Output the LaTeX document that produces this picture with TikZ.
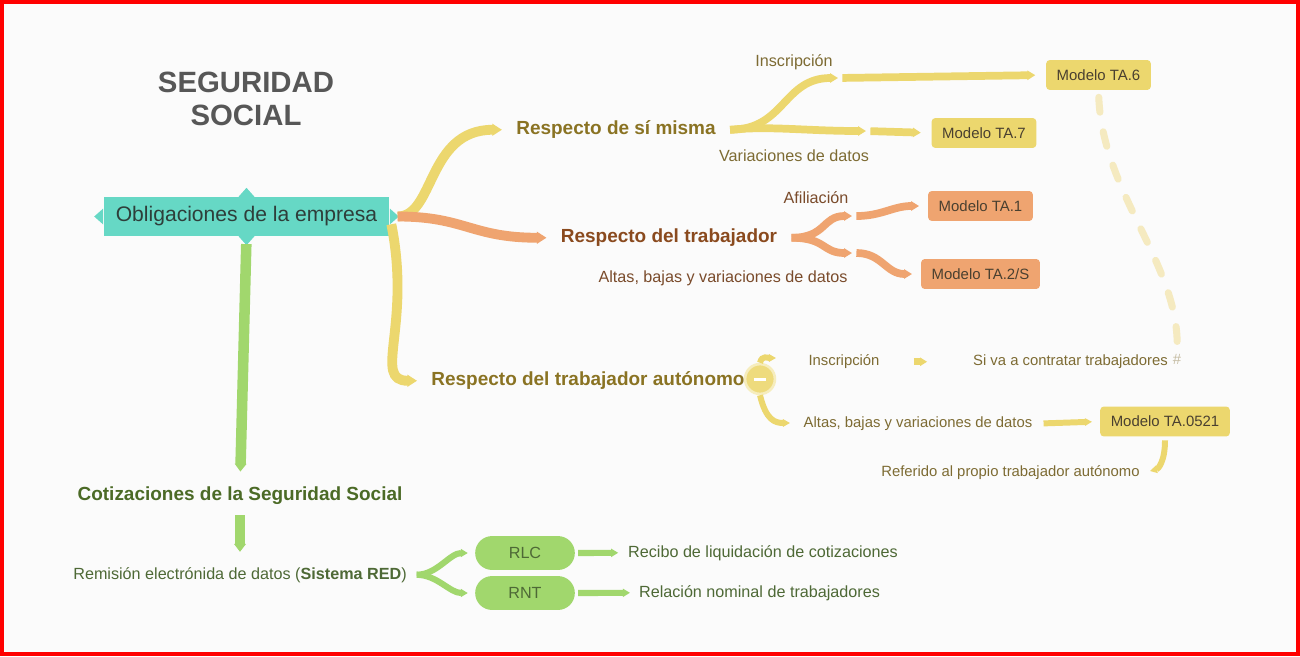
\documentclass[tikz,border=0pt]{standalone}
\usepackage{fontspec}
\setmainfont{Liberation Sans}
\usetikzlibrary{arrows.meta}

\definecolor{bgc}{HTML}{FBFBFB}
\definecolor{framec}{HTML}{FF0000}
\definecolor{titc}{HTML}{575757}
\definecolor{mainc}{HTML}{66D8C5}
\definecolor{maintxt}{HTML}{2E3E3A}
\definecolor{yelc}{HTML}{ECD76E}
\definecolor{orac}{HTML}{EFA470}
\definecolor{grnc}{HTML}{A1D76D}
\definecolor{dashc}{HTML}{F5EAC0}
\definecolor{ytxt}{HTML}{8A7323}
\definecolor{ylab}{HTML}{7D6B33}
\definecolor{otxt}{HTML}{8A4A1E}
\definecolor{olab}{HTML}{7A4B2B}
\definecolor{gtxt}{HTML}{4B6A26}
\definecolor{glab}{HTML}{4E6936}
\definecolor{boxtxt}{HTML}{4A4030}

\begin{document}
\begin{tikzpicture}[x=0.02cm, y=-0.02cm,
	every node/.style={inner sep=0pt},
	yrib/.style={draw=yelc, line width=5.6pt, -{Triangle[length=5.5pt, width=6.6pt]}},
	yrib2/.style={draw=yelc, line width=4.4pt, -{Triangle[length=4.5pt, width=5.2pt]}},
	yrib3/.style={draw=yelc, line width=3.4pt, -{Triangle[length=4pt, width=4.2pt]}},
	orib/.style={draw=orac, line width=5.6pt, -{Triangle[length=5.5pt, width=6.6pt]}},
	orib2/.style={draw=orac, line width=4.4pt, -{Triangle[length=4.5pt, width=5.2pt]}},
	grib/.style={draw=grnc, line width=6pt, -{Triangle[length=4.5pt, width=6.5pt]}},
	grib2/.style={draw=grnc, line width=3.5pt, -{Triangle[length=4pt, width=4.5pt]}},
	yhead/.style={font=\bfseries\fontsize{10.8}{13}\selectfont, text=ytxt, inner xsep=8pt, yshift=-1pt},
	ohead/.style={font=\bfseries\fontsize{10.8}{13}\selectfont, text=otxt, inner xsep=8pt, yshift=-1pt},
	ghead/.style={font=\bfseries\fontsize{10.8}{13}\selectfont, text=gtxt, yshift=-1pt},
	ylabel/.style={font=\fontsize{9.2}{11}\selectfont, text=ylab, yshift=-1pt},
	ysmall/.style={font=\fontsize{8.45}{10}\selectfont, text=ylab, yshift=-1pt},
	olabel/.style={font=\fontsize{9.2}{11}\selectfont, text=olab, yshift=-1pt},
	glabel/.style={font=\fontsize{9.2}{11}\selectfont, text=glab, yshift=-1pt},
	ybox/.style={fill=yelc, rounded corners=2pt, text=boxtxt, font=\fontsize{8.5}{10}\selectfont, inner xsep=6pt, minimum height=17pt},
	obox/.style={ybox, fill=orac},
	pill/.style={fill=grnc, rounded corners=9.6pt, text=glab, font=\fontsize{9.2}{11}\selectfont, minimum width=56.7pt, minimum height=19.3pt}
]

	\useasboundingbox (0,0) rectangle (1300,656);
	\fill[bgc] (0,0) rectangle (1300,656);
	\draw[framec, line width=2.3pt] (2,2) rectangle (1298,654);

	\node[font=\bfseries\fontsize{16.7}{18.7}\selectfont, text=titc, align=center, yshift=-1pt] (title) at (246,97) {SEGURIDAD\\SOCIAL};

	\node[fill=mainc, text=maintxt, font=\fontsize{12}{14}\selectfont, minimum width=162.7pt, minimum height=22pt] (oblig) at (246.5,216.5) {Obligaciones de la empresa};
	\fill[mainc] (oblig.north) +(-8,0) -- +(0,-9) -- +(8,0) -- cycle;
	\fill[mainc] (oblig.south) +(-8,0) -- +(0,9) -- +(8,0) -- cycle;
	\fill[mainc] (oblig.west) +(0,-8) -- +(-9,0) -- +(0,8) -- cycle;
	\fill[mainc] (oblig.east) +(0,-8) -- +(9,0) -- +(0,8) -- cycle;

	\node[yhead] (misma) at (616,128) {Respecto de sí misma};
	\node[ohead] (trab) at (669,236) {Respecto del trabajador};
	\node[yhead] (auton) at (588,379) {Respecto del trabajador autónomo};

	\draw[yrib, shorten <=4.5pt] (oblig.east) .. controls +(45,0) and +(-75,0) .. (misma.west);
	\draw[orib, shorten <=4.5pt] (oblig.east) .. controls +(75,0) and +(-75,0) .. (trab.west);
	\draw[yrib, shorten <=4.5pt] (oblig.east) .. controls +(22,110) and +(-45,0) .. (auton.west);

	% respecto de si misma
	\node[ybox] (ta6) at (1098.5,75) {Modelo TA.6};
	\node[ybox] (ta7) at (984,133) {Modelo TA.7};
	\node[ylabel] (insc) at (794,60) {Inscripción};
	\node[ylabel] (varia) at (794,154) {Variaciones de datos};
	\coordinate (pins) at (838,78);
	\coordinate (pvar) at (866,131);

	\draw[yrib2] (misma.east) .. controls +(55,0) and +(-55,0) .. (pins);
	\draw[yrib2, shorten <=2.5pt, shorten >=6pt] (pins) -- (ta6.west);
	\draw[yrib2] (misma.east) .. controls +(40,-4) and +(-60,0) .. (pvar);
	\draw[yrib2, shorten <=2.5pt, shorten >=6pt] (pvar) -- (ta7.west);

	% respecto del trabajador
	\node[obox] (ta1) at (980.5,206) {Modelo TA.1};
	\node[obox] (ta2) at (980.5,274) {Modelo TA.2/S};
	\node[olabel] (afil) at (816,196) {Afiliación};
	\node[olabel] (altas) at (723,277) {Altas, bajas y variaciones de datos};
	\coordinate (pafi) at (852,216);
	\coordinate (palt) at (852,253);

	\draw[orib2] (trab.east) .. controls +(35,0) and +(-30,0) .. (pafi);
	\draw[orib2, shorten <=2.5pt, shorten >=5pt] (pafi) .. controls +(30,0) and +(-35,0) .. (ta1.west);
	\draw[orib2] (trab.east) .. controls +(35,0) and +(-30,0) .. (palt);
	\draw[orib2, shorten <=2.5pt, shorten >=5pt] (palt) .. controls +(30,0) and +(-35,0) .. (ta2.west);

	% respecto del trabajador autonomo
	\node[circle, fill=yelc!90!white, draw=yelc!45!white, line width=1.5pt, minimum size=17pt] (minus) at (760,379) {\textcolor{white}{\rule{6.8pt}{1.7pt}}};
	\node[ysmall] (ains) at (844,360) {Inscripción};
	\node[ysmall] (siva) at (1070.5,360) {Si va a contratar trabajadores};
	\node[font=\fontsize{8.45}{10}\selectfont, text=ylab!45!white, yshift=-1pt] (hash) at (1177,358) {\#};
	\node[ysmall] (aalt) at (918,422) {Altas, bajas y variaciones de datos};
	\node[ybox] (ta0521) at (1165,421.5) {Modelo TA.0521};
	\node[ysmall] (refer) at (1010.5,471) {Referido al propio trabajador autónomo};
	\coordinate (pains) at (776,358);
	\coordinate (paalt) at (790,423);
	\coordinate (pref) at (1150,471);

	\draw[yrib3] (minus.north) .. controls +(2,-8) and +(-8,0) .. (pains);
	\draw[yrib3] (minus.south) .. controls +(6,25) and +(-15,0) .. (paalt);
	\draw[yrib3, line width=4.2pt, -{Triangle[length=4pt, width=4.6pt]}, shorten <=19.3pt, shorten >=26pt] (ains.east) -- (siva.west);
	\draw[yrib3, shorten <=6.2pt, shorten >=4.5pt] (aalt.east) -- (ta0521.west);
	\draw[yrib3, shorten <=2pt] (ta0521.south) .. controls +(0,25) and +(8,-2) .. (pref);

	\draw[dashc, line width=4pt, line cap=round, dash pattern=on 8.5pt off 11.3pt, shorten <=4pt, shorten >=4pt] (ta6.south) .. controls +(4,103) and +(2,-90) .. (hash.north);

	% cotizaciones
	\node[ghead] (cotiz) at (240,494) {Cotizaciones de la Seguridad Social};
	\node[glabel] (remis) at (240,573) {Remisión electrónida de datos (\textbf{Sistema RED})};
	\node[pill] (rlc) at (525,553) {RLC};
	\node[pill] (rnt) at (525,593) {RNT};
	\node[glabel] (recibo) at (763,551) {Recibo de liquidación de cotizaciones};
	\node[glabel] (relac) at (759.5,591) {Relación nominal de trabajadores};

	\draw[grib, shorten <=4.5pt, shorten >=8.5pt] (oblig.south) -- (cotiz.north);
	\draw[grib, shorten <=5.7pt, shorten >=8.5pt] (cotiz.south) -- (remis.north);
	\draw[grib2, shorten <=5.5pt, shorten >=4pt] (remis.east) .. controls +(30,0) and +(-25,0) .. (rlc.west);
	\draw[grib2, shorten <=5.5pt, shorten >=4pt] (remis.east) .. controls +(30,0) and +(-25,0) .. (rnt.west);
	\draw[grib2, shorten <=1.7pt, shorten >=5.5pt] (rlc.east) -- (recibo.west);
	\draw[grib2, shorten <=1.7pt, shorten >=5pt] (rnt.east) -- (relac.west);

\end{tikzpicture}
\end{document}
